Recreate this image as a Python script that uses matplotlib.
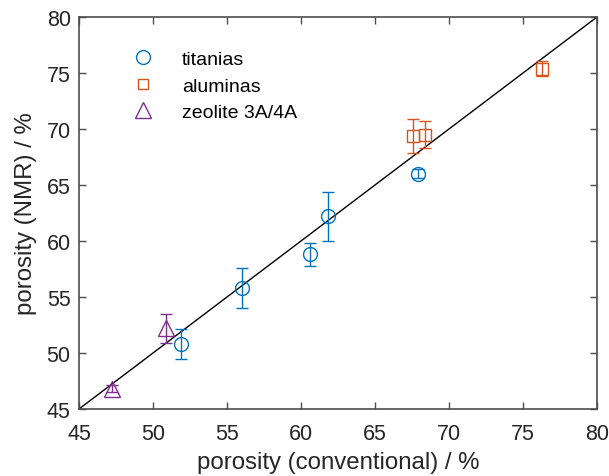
import matplotlib
matplotlib.use("Agg")
import matplotlib.pyplot as plt
from matplotlib.lines import Line2D

plt.rcParams['font.family'] = ['Liberation Sans', 'DejaVu Sans']

# data
ti_x = [51.9, 56.0, 60.6, 61.8, 67.9]
ti_y = [50.8, 55.8, 58.8, 62.2, 66.0]
ti_e = [1.3, 1.8, 1.0, 2.2, 0.4]

al_x = [67.6, 68.4, 76.3]
al_y = [69.4, 69.5, 75.4]
al_e = [1.5, 1.2, 0.7]

ze_x = [47.2, 50.9]
ze_y = [46.8, 52.2]
ze_e = [0.3, 1.3]

ticks = [45, 50, 55, 60, 65, 70, 75, 80]
labels = ['titanias', 'aluminas', 'zeolite 3A/4A']

c_ti = '#0072BD'
c_al = '#D95319'
c_ze = '#7E2F8E'
axc = '#4d4d4d'
txtc = '#262626'

fig = plt.figure(figsize=(6.09, 4.77), dpi=100)
ax = fig.add_axes([79/609, 1-410/477, (597-79)/609, (410-18)/477])

ax.plot([45, 80], [45, 80], color='black', lw=1.0, zorder=1)

kw = dict(ls='none', mfc='none', elinewidth=1.0, capsize=4.5, capthick=1.0, mew=1.0, zorder=3)
ax.errorbar(ti_x, ti_y, yerr=ti_e, fmt='o', ms=10, color=c_ti, **kw)
ax.errorbar(al_x, al_y, yerr=al_e, fmt='s', ms=8, color=c_al, **kw)
ax.errorbar(ze_x, ze_y, yerr=ze_e, fmt='^', ms=11, color=c_ze, **kw)

ax.set_xlim(45, 80)
ax.set_ylim(45, 80)
ax.set_xticks(ticks)
ax.set_yticks(ticks)
ax.tick_params(direction='in', top=True, right=True, length=5, width=1,
               color=axc, labelcolor=txtc, labelsize=15.5)
ax.tick_params(axis='y', pad=6)
ax.tick_params(axis='x', pad=10)
for s in ax.spines.values():
    s.set_color(axc)
    s.set_linewidth(1.2)

ax.set_xlabel('porosity (conventional) / %', fontsize=17.3, color=txtc, labelpad=5)
ax.set_ylabel('porosity (NMR) / %', fontsize=17.3, color=txtc, labelpad=7)

hs = [Line2D([], [], ls='none', marker='o', ms=10, mfc='none', mec=c_ti, mew=1.0),
      Line2D([], [], ls='none', marker='s', ms=7.5, mfc='none', mec=c_al, mew=1.0),
      Line2D([], [], ls='none', marker='^', ms=11, mfc='none', mec=c_ze, mew=1.0)]
ax.legend(hs, labels, loc='upper left', bbox_to_anchor=(0.071, 0.934), frameon=False,
          fontsize=14, handletextpad=1.0, labelspacing=0.45, borderaxespad=0,
          labelcolor='black')

fig.savefig('out.png', dpi=100)
